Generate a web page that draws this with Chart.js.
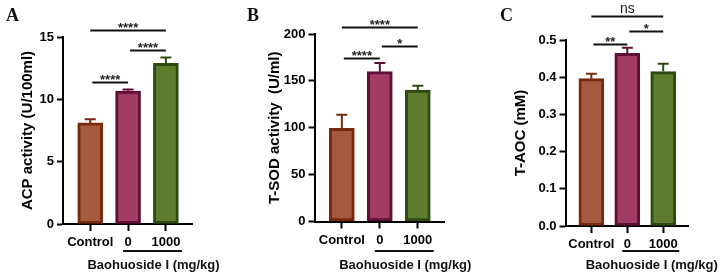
<!DOCTYPE html>
<html>
<head>
<meta charset="utf-8">
<script src="https://cdn.jsdelivr.net/npm/chart.js@4.4.1/dist/chart.umd.min.js"></script>
<style>
    body { margin: 0; background: #fff; }
    #wrap { position: relative; width: 727px; height: 277px; overflow: hidden; }
    #wrap canvas { position: absolute; top: 0; }
</style>
</head>
<body>
<div id="wrap">
    <canvas id="chartA" width="242" height="277" style="left:0px"></canvas>
    <canvas id="chartB" width="242" height="277" style="left:242px"></canvas>
    <canvas id="chartC" width="243" height="277" style="left:484px"></canvas>
</div>
<script>
// Groups on the x axis
const groups = ['Control', '0', '1000'];
const doseLabel = 'Baohuoside I (mg/kg)';

// A - ACP activity
const acpMean = [8.11, 10.67, 12.88];
const acpErr = [0.30, 0.12, 0.47];
const acpTicks = [0, 5, 10, 15];
const acpSigPairs = [[1, 2], [2, 3], [1, 3]];
const acpSigText = ['****', '****', '****'];
const acpSigLevel = [11.4, 13.93, 15.54];

// B - T-SOD activity
const sodMean = [99.5, 159.8, 140.2];
const sodErr = [14.5, 9.3, 4.7];
const sodTicks = [0, 50, 100, 150, 200];
const sodSigPairs = [[1, 2], [2, 3], [1, 3]];
const sodSigText = ['****', '*', '****'];
const sodSigLevel = [174.9, 187.3, 207.8];

// C - T-AOC
const aocMean = [0.396, 0.464, 0.415];
const aocErr = [0.013, 0.015, 0.021];
const aocTicks = [0, 0.1, 0.2, 0.3, 0.4, 0.5];
const aocSigPairs = [[1, 2], [2, 3], [1, 3]];
const aocSigText = ['**', '*', 'ns'];
const aocSigLevel = [0.488, 0.524, 0.565];

const fillColors = ['#A5593E', '#A33C63', '#5E7C2E'];
const edgeColors = ['#7A2A0C', '#5E1036', '#2F4A10'];

Chart.defaults.font.family = '"Liberation Sans", Arial, sans-serif';
Chart.defaults.color = '#000';

// Draws error caps, significance brackets, the dose underline and the panel letter
const extrasPlugin = {
    id: 'extras',
    afterDatasetsDraw: (chart) => {
        const ctx = chart.ctx;
        const opt = chart.options.plugins.extras;
        const xs = chart.scales.x, ys = chart.scales.y;
        const meta = chart.getDatasetMeta(0);
        ctx.save();
        // error bars (upper only)
        meta.data.forEach((bar, i) => {
            let top = ys.getPixelForValue(opt.mean[i] + opt.err[i]);
            ctx.strokeStyle = edgeColors[i];
            ctx.lineWidth = 2;
            ctx.beginPath();
            ctx.moveTo(bar.x, bar.y);
            ctx.lineTo(bar.x, top);
            ctx.moveTo(bar.x - 5.5, top);
            ctx.lineTo(bar.x + 5.5, top);
            ctx.stroke();
        });
        // significance brackets
        opt.sigPairs.forEach((pair, k) => {
            let x1 = xs.getPixelForValue(pair[0]) + (pair[1] - pair[0] === 1 ? 2 : 0);
            let x2 = xs.getPixelForValue(pair[1]);
            let y = Math.round(ys.getPixelForValue(opt.sigLevel[k])) + 0.5;
            ctx.strokeStyle = '#111';
            ctx.lineWidth = 2;
            ctx.beginPath();
            ctx.moveTo(x1, y);
            ctx.lineTo(x2, y);
            ctx.stroke();
            ctx.fillStyle = '#222';
            ctx.textAlign = 'center';
            ctx.textBaseline = 'alphabetic';
            if (opt.sigText[k] === 'ns') {
                ctx.font = '14px "Liberation Sans", Arial, sans-serif';
                ctx.fillText('ns', (x1 + x2) / 2, y - 4);
            } else {
                ctx.font = 'bold 13px "Liberation Sans", Arial, sans-serif';
                ctx.fillText(opt.sigText[k], (x1 + x2) / 2, y + 1);
            }
        });
        // underline below the dose groups and its label
        let u1 = xs.getPixelForValue(2) - 5;
        let u2 = xs.getPixelForValue(3) + 16;
        ctx.strokeStyle = '#111';
        ctx.lineWidth = 2;
        ctx.beginPath();
        ctx.moveTo(u1, 251);
        ctx.lineTo(u2, 251);
        ctx.stroke();
        ctx.fillStyle = '#111';
        ctx.font = 'bold 13px "Liberation Sans", Arial, sans-serif';
        ctx.textAlign = 'center';
        ctx.textBaseline = 'middle';
        ctx.fillText(doseLabel, (u1 + u2) / 2 + 1, 265);
        // panel letter
        ctx.font = 'bold 18px "Liberation Serif", "Times New Roman", serif';
        ctx.textAlign = 'left';
        ctx.textBaseline = 'alphabetic';
        ctx.fillText(opt.letter, opt.letterX, 21);
        ctx.restore();
    }
};

function makePanel(id, p) {
    let data = p.mean.map((v, i) => ({x: i + 1, y: v}));
    return new Chart(document.getElementById(id), {
        type: 'bar',
        data: {
            datasets: [{
                data: data,
                backgroundColor: fillColors,
                borderColor: edgeColors,
                borderWidth: 3,
                borderSkipped: false,
                barThickness: 25
            }]
        },
        options: {
            responsive: false,
            animation: false,
            events: [],
            layout: {padding: {top: p.padTop, right: p.padRight, left: 0, bottom: 0}},
            plugins: {
                legend: {display: false},
                tooltip: {enabled: false},
                extras: {mean: p.mean, err: p.err, sigPairs: p.sigPairs, sigText: p.sigText,
                    sigLevel: p.sigLevel, letter: p.letter, letterX: p.letterX}
            },
            scales: {
                x: {
                    type: 'linear',
                    min: 0.28,
                    max: 3.69,
                    offset: false,
                    afterBuildTicks: (scale) => {
                        scale.ticks = groups.map((g, i) => ({value: i + 1}));
                    },
                    afterFit: (scale) => { scale.height = p.xHeight; },
                    ticks: {
                        callback: (v) => groups[v - 1],
                        font: {size: 13, weight: 'bold'},
                        padding: 4,
                        maxRotation: 0,
                        autoSkip: false
                    },
                    grid: {drawOnChartArea: false, offset: false, tickLength: 7, tickWidth: 2, tickColor: '#000'},
                    border: {display: true, width: 2, color: '#000'}
                },
                y: {
                    min: 0,
                    max: p.ticks[p.ticks.length - 1],
                    afterBuildTicks: (scale) => {
                        scale.ticks = p.ticks.map(v => ({value: v}));
                    },
                    afterFit: (scale) => { scale.width = p.yWidth; },
                    ticks: {
                        callback: (v) => v.toFixed(p.decimals),
                        font: {size: 13, weight: 'bold'},
                        padding: 3
                    },
                    grid: {drawOnChartArea: false, tickLength: 6, tickWidth: 2, tickColor: '#000'},
                    border: {display: true, width: 2, color: '#000'},
                    title: {
                        display: true,
                        text: p.title,
                        font: {size: 15, weight: 'bold'},
                        padding: {top: p.titlePad, bottom: 0}
                    }
                }
            }
        },
        plugins: [extrasPlugin]
    });
}

makePanel('chartA', {mean: acpMean, err: acpErr, ticks: acpTicks, decimals: 0,
    sigPairs: acpSigPairs, sigText: acpSigText, sigLevel: acpSigLevel,
    title: 'ACP activity (U/100ml)', letter: 'A', letterX: 6,
    padTop: 37, padRight: 50, yWidth: 63, xHeight: 53, titlePad: 19});

makePanel('chartB', {mean: sodMean, err: sodErr, ticks: sodTicks, decimals: 0,
    sigPairs: sodSigPairs, sigText: sodSigText, sigLevel: sodSigLevel,
    title: 'T-SOD activity  (U/ml)', letter: 'B', letterX: 5,
    padTop: 34, padRight: 40, yWidth: 72.5, xHeight: 55.5, titlePad: 24});

makePanel('chartC', {mean: aocMean, err: aocErr, ticks: aocTicks, decimals: 1,
    sigPairs: aocSigPairs, sigText: aocSigText, sigLevel: aocSigLevel,
    title: 'T-AOC (mM)', letter: 'C', letterX: 16,
    padTop: 40, padRight: 39, yWidth: 81.5, xHeight: 51, titlePad: 28});
</script>
</body>
</html>
